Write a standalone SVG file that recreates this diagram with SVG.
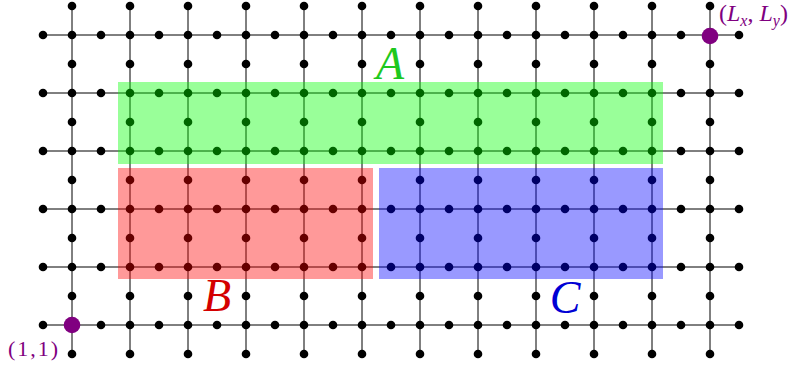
<svg xmlns="http://www.w3.org/2000/svg" xmlns:xlink="http://www.w3.org/1999/xlink" width="801" height="372" viewBox="0 0 801 372">
<style>
.ln{stroke:#000;stroke-width:1;fill:none}
.d{fill:#000}
.pd{fill:#800080}
.lbl{font-family:"Liberation Serif","Times New Roman",serif;font-style:italic;font-size:46px;text-anchor:middle}
.pl{font-family:"Liberation Serif","Times New Roman",serif;fill:#800080}
.it{font-style:italic}
.sub{font-style:italic;font-size:16px}
</style>
<defs>
<g id="col">
<circle class="d" cx="0" cy="6" r="4.3"/><circle class="d" cx="0" cy="35" r="4.3"/><circle class="d" cx="0" cy="64" r="4.3"/><circle class="d" cx="0" cy="93" r="4.3"/><circle class="d" cx="0" cy="122" r="4.3"/><circle class="d" cx="0" cy="151" r="4.3"/><circle class="d" cx="0" cy="180" r="4.3"/><circle class="d" cx="0" cy="209" r="4.3"/><circle class="d" cx="0" cy="238" r="4.3"/><circle class="d" cx="0" cy="267" r="4.3"/><circle class="d" cx="0" cy="296" r="4.3"/><circle class="d" cx="0" cy="325" r="4.3"/><circle class="d" cx="0" cy="354" r="4.3"/>
</g>
<g id="row">
<circle class="d" cx="43" cy="0" r="4.3"/><circle class="d" cx="101" cy="0" r="4.3"/><circle class="d" cx="159" cy="0" r="4.3"/><circle class="d" cx="217" cy="0" r="4.3"/><circle class="d" cx="275" cy="0" r="4.3"/><circle class="d" cx="333" cy="0" r="4.3"/><circle class="d" cx="391" cy="0" r="4.3"/><circle class="d" cx="449" cy="0" r="4.3"/><circle class="d" cx="507" cy="0" r="4.3"/><circle class="d" cx="565" cy="0" r="4.3"/><circle class="d" cx="623" cy="0" r="4.3"/><circle class="d" cx="681" cy="0" r="4.3"/><circle class="d" cx="739" cy="0" r="4.3"/>
</g>
</defs>
<g id="connectors">
<path class="ln" d="M72 6V354M130 6V354M188 6V354M246 6V354M304 6V354M362 6V354M420 6V354M478 6V354M536 6V354M594 6V354M652 6V354M710 6V354"/>
<path class="ln" d="M43 35H739M43 93H739M43 151H739M43 209H739M43 267H739M43 325H739"/>
</g>
<g id="sites">
<use xlink:href="#col" x="72"/><use xlink:href="#col" x="130"/><use xlink:href="#col" x="188"/><use xlink:href="#col" x="246"/><use xlink:href="#col" x="304"/><use xlink:href="#col" x="362"/><use xlink:href="#col" x="420"/><use xlink:href="#col" x="478"/><use xlink:href="#col" x="536"/><use xlink:href="#col" x="594"/><use xlink:href="#col" x="652"/><use xlink:href="#col" x="710"/>
<use xlink:href="#row" y="35"/><use xlink:href="#row" y="93"/><use xlink:href="#row" y="151"/><use xlink:href="#row" y="209"/><use xlink:href="#row" y="267"/><use xlink:href="#row" y="325"/>
</g>
<g id="region-A"><rect x="118" y="82" width="545" height="82" fill="#00ff00" fill-opacity="0.4"/><text class="lbl" x="390" y="79" fill="#1ec81e">A</text></g>
<g id="region-B"><rect x="118" y="168" width="255" height="111" fill="#ff0000" fill-opacity="0.4"/><text class="lbl" x="217" y="311" fill="#d40000">B</text></g>
<g id="region-C"><rect x="379" y="168" width="284" height="111" fill="#0000ff" fill-opacity="0.4"/><text class="lbl" x="565" y="313" fill="#0000d4">C</text></g>
<g id="corner-start"><circle class="pd" cx="72" cy="325" r="8.3"/><text class="pl" x="8" y="356" style="font-size:22px" textLength="50" lengthAdjust="spacing">(1,1)</text></g>
<g id="corner-end"><circle class="pd" cx="710" cy="36" r="8.3"/><text class="pl" x="719" y="21" style="font-size:24px">(<tspan class="it">L</tspan><tspan class="sub" dy="5">x</tspan><tspan dy="-5">, </tspan><tspan class="it">L</tspan><tspan class="sub" dy="5">y</tspan><tspan dy="-5">)</tspan></text></g>
</svg>
